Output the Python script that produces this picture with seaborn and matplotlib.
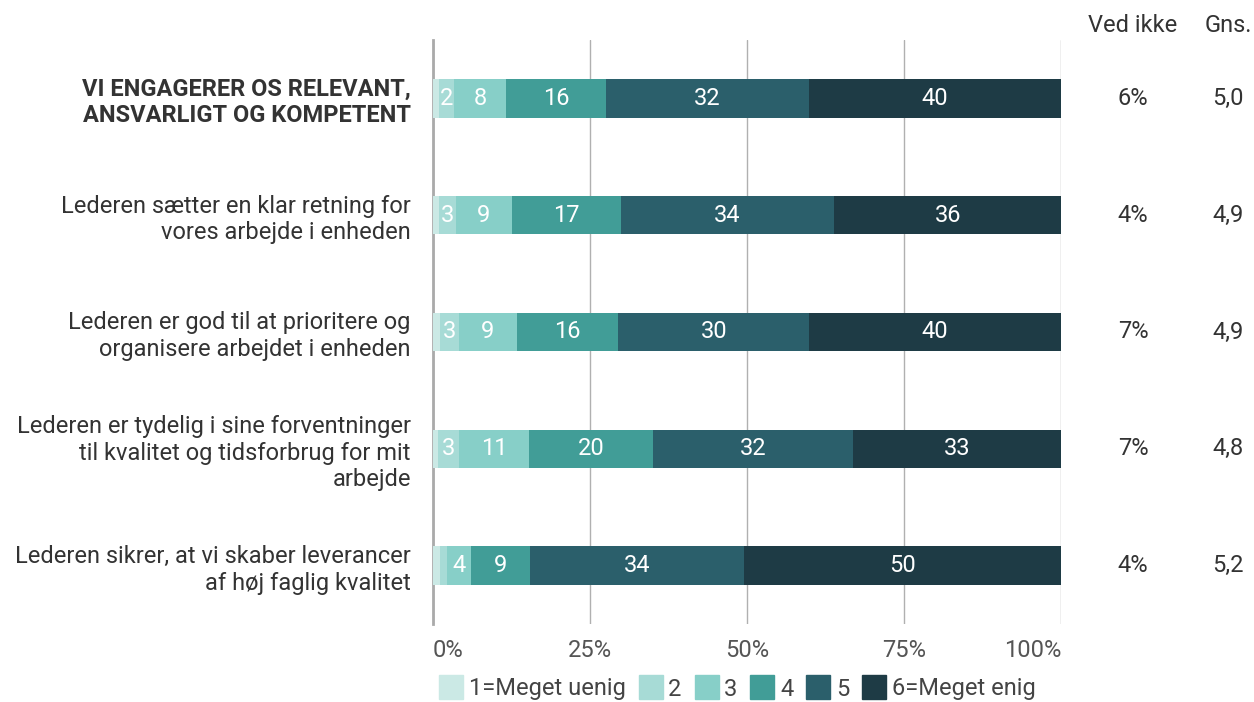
import pandas as pd
import matplotlib.pyplot as plt
import seaborn as sns
from matplotlib.lines import Line2D

# Data
spoergsmaal = [
    "VI ENGAGERER OS RELEVANT,\nANSVARLIGT OG KOMPETENT",
    "Lederen sætter en klar retning for\nvores arbejde i enheden",
    "Lederen er god til at prioritere og\norganisere arbejdet i enheden",
    "Lederen er tydelig i sine forventninger\ntil kvalitet og tidsforbrug for mit\narbejde",
    "Lederen sikrer, at vi skaber leverancer\naf høj faglig kvalitet",
]
niveauer = ["1=Meget uenig", "2", "3", "4", "5", "6=Meget enig"]
svar_1 = [1.0, 0.9, 1.1, 0.8, 1.1]
svar_2 = [2.4, 2.8, 3.0, 3.4, 1.1]
svar_3 = [8.3, 8.8, 9.2, 11.1, 3.8]
svar_4 = [15.8, 17.4, 16.2, 19.7, 9.4]
svar_5 = [32.4, 34.0, 30.4, 31.9, 34.2]
svar_6 = [40.1, 36.1, 40.1, 33.1, 50.4]
ved_ikke = ["6%", "4%", "7%", "7%", "4%"]
gns = ["5,0", "4,9", "4,9", "4,8", "5,2"]

farver = ["#cbe9e5", "#a7dbd6", "#87cfc8", "#419d97", "#2b5f6b", "#1e3b45"]

serier = [svar_1, svar_2, svar_3, svar_4, svar_5, svar_6]
datos = pd.DataFrame({"spm": spoergsmaal})
for navn, s in zip(niveauer, serier):
    datos[navn] = s
kum = datos[niveauer].cumsum(axis=1)

sns.set_theme(style="white")
plt.rcParams["font.family"] = ["Roboto", "DejaVu Sans"]
fs = 17

fig = plt.figure(figsize=(12.54, 7.02), dpi=100)
ax = fig.add_axes([433 / 1254, 1 - 624 / 702, 628 / 1254, 584 / 702])

# Stablede bjælker: tegn kumulative summer fra største til mindste
for i in range(len(niveauer) - 1, -1, -1):
    tmp = pd.DataFrame({"spm": spoergsmaal, "vaerdi": kum[niveauer[i]]})
    sns.barplot(data=tmp, x="vaerdi", y="spm", color=farver[i], width=0.33,
                orient="h", linewidth=0, saturation=1, ax=ax, zorder=3)

# Tal i bjælkerne
for r in range(len(spoergsmaal)):
    for i, navn in enumerate(niveauer):
        v = datos.loc[r, navn]
        if v >= 2:
            midt = kum.loc[r, navn] - v / 2
            ax.text(midt, r, f"{round(v):d}", ha="center", va="center",
                    color="white", fontsize=fs, zorder=4)

ax.set_xlim(0, 100)
ax.set_ylim(4.5, -0.5)
ax.set_xlabel("")
ax.set_ylabel("")
ax.set_xticks([0, 25, 50, 75, 100])
ax.set_xticklabels(["0%", "25%", "50%", "75%", "100%"], fontsize=fs, color="#555555")
tl = ax.get_xticklabels()
tl[0].set_ha("left")
tl[-1].set_ha("right")
ax.tick_params(axis="x", length=0, pad=11)
ax.tick_params(axis="y", length=0, pad=16)
ax.set_yticks(range(len(spoergsmaal)))
ax.set_yticklabels(spoergsmaal, fontsize=fs, color="#333333", linespacing=1.2)
ax.get_yticklabels()[0].set_fontweight("bold")

ax.grid(axis="x", color="#b0b0b0", linewidth=1, zorder=0)
ax.grid(axis="y", visible=False)
for side in ["top", "right", "bottom"]:
    ax.spines[side].set_visible(False)
ax.spines["left"].set_color("#aaaaaa")
ax.spines["left"].set_linewidth(2)

# Kolonner til højre
fig.text(1133 / 1254, 1 - 25 / 702, "Ved ikke", ha="center", va="center", fontsize=fs, color="#333333")
fig.text(1228 / 1254, 1 - 25 / 702, "Gns.", ha="center", va="center", fontsize=fs, color="#333333")
tr = ax.get_yaxis_transform()
for r in range(len(spoergsmaal)):
    ax.text((1133 - 433) / 628, r, ved_ikke[r], transform=tr, ha="center", va="center",
            fontsize=fs, color="#333333", clip_on=False)
    ax.text((1228 - 433) / 628, r, gns[r], transform=tr, ha="center", va="center",
            fontsize=fs, color="#333333", clip_on=False)

# Forklaring
handles = [Line2D([0], [0], marker="s", linestyle="", markersize=17,
                  markerfacecolor=f, markeredgecolor=f) for f in farver]
fig.legend(handles, niveauer, loc="center", bbox_to_anchor=(738 / 1254, 1 - 689 / 702),
           ncol=6, frameon=False, fontsize=fs, handlelength=0.9, handletextpad=0.3,
           columnspacing=0.6, labelcolor="#444444")

fig.savefig("out.png", dpi=100)
